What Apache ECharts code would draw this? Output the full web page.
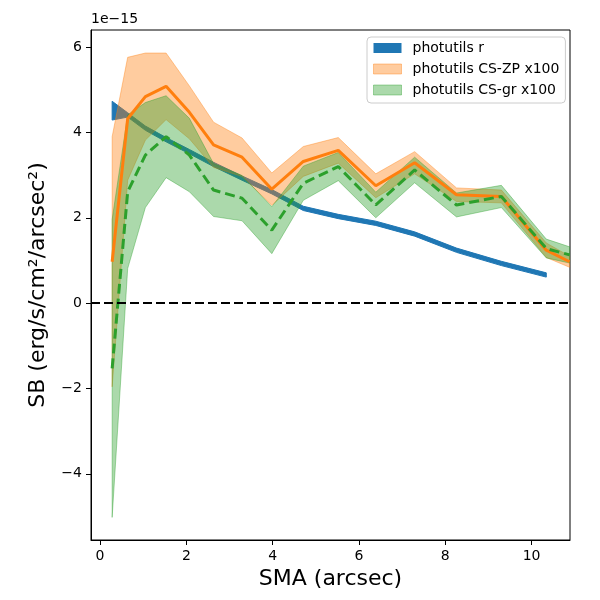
<!DOCTYPE html>
<html>
<head>
<meta charset="utf-8">
<script src="https://cdn.jsdelivr.net/npm/echarts@6/dist/echarts.min.js"></script>
<style>html,body{margin:0;padding:0;background:#fff}#main{width:600px;height:600px}</style>
</head>
<body>
<div id="main"></div>
<script>
// surface brightness profiles, in units of 1e-15 erg/s/cm2/arcsec2
var sma = [0.28, 0.64, 1.05, 1.53, 2.07, 2.63, 3.29, 3.98, 4.71, 5.52, 6.39, 7.29, 8.26, 9.30, 10.34, 10.88];
var csZp = [0.97, 4.32, 4.84, 5.08, 4.47, 3.71, 3.42, 2.67, 3.32, 3.58, 2.75, 3.29, 2.54, 2.50, 1.24, 0.97];
var csZpErr = [2.93, 1.44, 1.02, 0.78, 0.62, 0.53, 0.45, 0.38, 0.35, 0.30, 0.28, 0.26, 0.16, 0.15, 0.17, 0.13];
var csGr = [-1.53, 2.61, 3.47, 3.90, 3.47, 2.65, 2.46, 1.71, 2.81, 3.20, 2.30, 3.12, 2.30, 2.50, 1.28, 1.13];
var csGrErr = [3.49, 1.80, 1.23, 0.96, 0.86, 0.62, 0.53, 0.55, 0.40, 0.33, 0.30, 0.30, 0.28, 0.26, 0.22, 0.19];
var smaR = [0.28, 0.64, 1.05, 1.53, 2.07, 2.63, 3.29, 3.98, 4.71, 5.52, 6.39, 7.29, 8.26, 9.30, 10.34];
var sbR = [4.51, 4.41, 4.10, 3.83, 3.55, 3.25, 2.93, 2.61, 2.22, 2.03, 1.87, 1.62, 1.24, 0.93, 0.66];
var sbRErr = [0.22, 0.05, 0.05, 0.05, 0.05, 0.05, 0.05, 0.05, 0.05, 0.05, 0.05, 0.05, 0.05, 0.05, 0.05];
var xTicks = [0, 2, 4, 6, 8, 10];
var yTicks = [-4, -2, 0, 2, 4, 6];

var FONT = 'DejaVu Sans';

function pairs(xs, ys) { return xs.map(function (x, i) { return [x, ys[i]]; }); }

// error band drawn as one polygon (like fill_between), rows are [x, lo, hi]
function band(name, xs, ys, err, color, alpha) {
    var rows = xs.map(function (x, i) { return [x, ys[i] - err[i], ys[i] + err[i]]; });
    return {
        name: name, type: 'custom', silent: true, data: rows,
        encode: {x: 0, y: [1, 2]},
        itemStyle: {color: color, opacity: alpha},
        renderItem: function (params, api) {
            if (params.dataIndexInside !== 0) return;
            var n = params.dataInsideLength, top = [], bot = [];
            for (var i = 0; i < n; i++) {
                top.push(api.coord([api.value(0, i), api.value(2, i)]));
                bot.unshift(api.coord([api.value(0, i), api.value(1, i)]));
            }
            return {
                type: 'polygon',
                shape: {points: top.concat(bot)},
                style: {fill: color, stroke: color, lineWidth: 1, opacity: alpha}
            };
        }
    };
}

var series = [];
series.push(band('photutils r', smaR, sbR, sbRErr, '#1f77b4', 1));
series.push(band('photutils CS-ZP x100', sma, csZp, csZpErr, '#ff7f0e', 0.4));
series.push({
    type: 'line', symbol: 'none', silent: true, data: pairs(sma, csZp),
    lineStyle: {color: '#ff7f0e', width: 3}
});
series.push(band('photutils CS-gr x100', sma, csGr, csGrErr, '#2ca02c', 0.4));
series.push({
    type: 'line', symbol: 'none', silent: true, data: pairs(sma, csGr),
    lineStyle: {color: '#2ca02c', width: 3, type: [10, 5]},
    markLine: {
        silent: true, symbol: ['none', 'none'], label: {show: false},
        lineStyle: {color: '#000', width: 2, type: [9, 4]},
        data: [{yAxis: 0}]
    }
});

var minus = function (v) { return String(v).replace('-', '\u2212'); };

var option = {
    animation: false,
    backgroundColor: '#fff',
    textStyle: {fontFamily: FONT},
    grid: {left: 91, right: 30, top: 30, bottom: 60, show: true, borderColor: '#000', borderWidth: 1, backgroundColor: 'transparent'},
    legend: {
        left: 367, top: 37, orient: 'vertical',
        itemWidth: 28, itemHeight: 10, itemGap: 7,
        padding: [4, 6, 6, 6],
        backgroundColor: 'rgba(255,255,255,0.8)', borderColor: '#ccc', borderWidth: 1, borderRadius: 4,
        textStyle: {fontFamily: FONT, fontSize: 14, color: '#000', lineHeight: 14, padding: [0, 0, 0, 6]},
        data: [
            {name: 'photutils r', icon: 'rect', itemStyle: {color: '#1f77b4', opacity: 1}},
            {name: 'photutils CS-ZP x100', icon: 'rect', itemStyle: {color: '#ff7f0e', opacity: 0.4, borderColor: '#ff7f0e', borderWidth: 1}},
            {name: 'photutils CS-gr x100', icon: 'rect', itemStyle: {color: '#2ca02c', opacity: 0.4, borderColor: '#2ca02c', borderWidth: 1}}
        ]
    },
    graphic: [{type: 'text', left: 91, top: 12, style: {text: '1e\u221215', font: '14px "DejaVu Sans"', fill: '#000'}}],
    xAxis: {
        type: 'value', min: -0.21, max: 10.89,
        name: 'SMA (arcsec)', nameLocation: 'middle', nameGap: 28,
        nameTextStyle: {fontFamily: FONT, fontSize: 22, color: '#000'},
        axisLine: {onZero: false, lineStyle: {color: '#000', width: 1}},
        axisTick: {length: 5, lineStyle: {color: '#000'}, customValues: xTicks},
        axisLabel: {fontFamily: FONT, fontSize: 14, color: '#000', margin: 9, customValues: xTicks, formatter: minus},
        splitLine: {show: false}
    },
    yAxis: {
        type: 'value', min: -5.55, max: 6.4,
        name: 'SB (erg/s/cm\u00b2/arcsec\u00b2)', nameLocation: 'middle', nameGap: 42,
        nameTextStyle: {fontFamily: FONT, fontSize: 22, color: '#000'},
        axisLine: {onZero: false, lineStyle: {color: '#000', width: 1}},
        axisTick: {length: 5, lineStyle: {color: '#000'}, customValues: yTicks},
        axisLabel: {fontFamily: FONT, fontSize: 14, color: '#000', margin: 9, customValues: yTicks, formatter: minus},
        splitLine: {show: false}
    },
    series: series
};

var myChart = echarts.init(document.getElementById('main'));
myChart.setOption(option);
</script>
</body>
</html>
